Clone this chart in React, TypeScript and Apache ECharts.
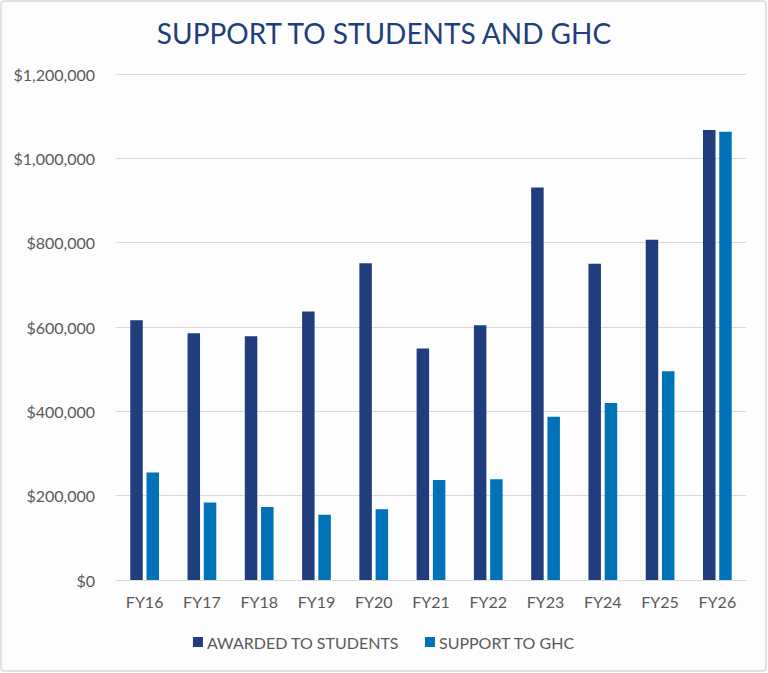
import React, { useRef, useEffect } from 'react';
import * as echarts from 'echarts';

const years = ['FY16', 'FY17', 'FY18', 'FY19', 'FY20', 'FY21', 'FY22', 'FY23', 'FY24', 'FY25', 'FY26'];
const awardedToStudents = [616000, 585000, 578000, 637000, 751000, 549000, 604000, 931000, 750000, 807000, 1067000];
const supportToGhc = [255000, 184000, 173000, 155000, 168000, 237000, 239000, 387000, 420000, 495000, 1063000];

const FONT = 'Lato, "Noto Sans", sans-serif';
const NAVY = '#203e7e';
const BLUE = '#0072b8';
const GREY_TEXT = '#595959';

const App: React.FC = () => {
  const chartRef = useRef<HTMLDivElement>(null);

  useEffect(() => {
    document.body.style.margin = '0';
    if (!chartRef.current) return;

    const myChart = echarts.init(chartRef.current, undefined, { renderer: 'svg' });

    const option = {
      animation: false,
      backgroundColor: '#ffffff',
      textStyle: { fontFamily: FONT },
      graphic: [
        {
          type: 'rect',
          shape: { x: 1, y: 1, width: 765, height: 670, r: 3 },
          style: { fill: '#fdfdfd', stroke: '#d9d9d9', lineWidth: 1.5 },
          z: -10,
          silent: true
        }
      ],
      title: {
        text: 'SUPPORT TO STUDENTS AND GHC',
        left: 'center',
        top: 14,
        textStyle: {
          color: NAVY,
          fontFamily: FONT,
          fontSize: 28,
          fontWeight: 'normal'
        }
      },
      legend: {
        bottom: 18,
        left: 'center',
        itemWidth: 10,
        itemHeight: 10,
        itemGap: 26,
        icon: 'rect',
        textStyle: { color: GREY_TEXT, fontSize: 16, fontFamily: FONT, padding: [0, 0, 0, -1] },
        data: ['AWARDED TO STUDENTS', 'SUPPORT TO GHC']
      },
      grid: {
        left: 116,
        right: 22,
        top: 74,
        bottom: 93,
        containLabel: false
      },
      xAxis: {
        type: 'category',
        data: years,
        axisLine: { show: true, lineStyle: { color: '#d9d9d9', width: 1 } },
        axisTick: { show: false },
        axisLabel: { color: GREY_TEXT, fontSize: 16, fontFamily: FONT, margin: 13 }
      },
      yAxis: {
        type: 'value',
        min: 0,
        max: 1200000,
        interval: 200000,
        axisLine: { show: false },
        axisTick: { show: false },
        splitLine: { lineStyle: { color: '#d9d9d9', width: 1 } },
        axisLabel: {
          color: GREY_TEXT,
          fontSize: 16,
          fontFamily: FONT,
          margin: 21,
          formatter: (v: number) => '$' + v.toLocaleString('en-US')
        }
      },
      series: [
        {
          name: 'AWARDED TO STUDENTS',
          type: 'bar',
          data: awardedToStudents,
          barWidth: 12.5,
          barGap: '30%',
          itemStyle: { color: NAVY }
        },
        {
          name: 'SUPPORT TO GHC',
          type: 'bar',
          data: supportToGhc,
          barWidth: 12.5,
          itemStyle: { color: BLUE }
        }
      ]
    };

    myChart.setOption(option);

    return () => {
      myChart.dispose();
    };
  }, []);

  return <div ref={chartRef} style={{ width: '768px', height: '673px' }} />;
};

export default App;
